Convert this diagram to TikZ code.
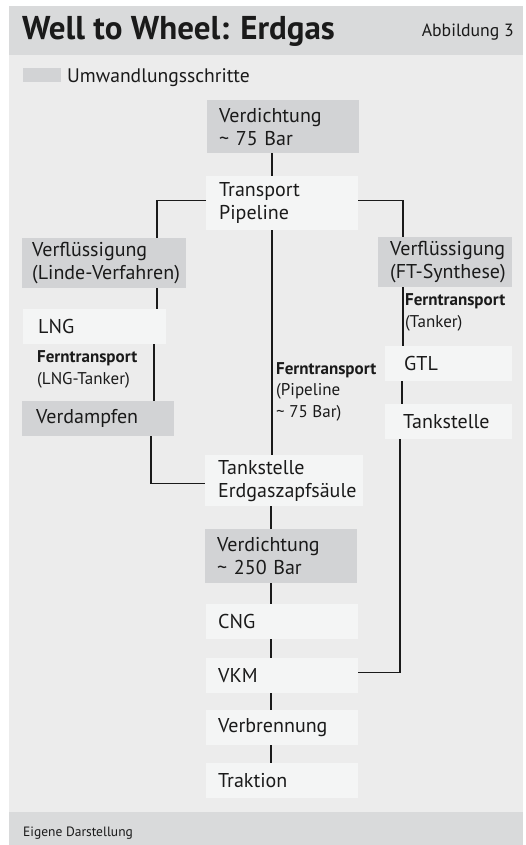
\documentclass[tikz,border=0pt]{standalone}
\usepackage{fontspec}
\setmainfont{PT Sans}
\definecolor{panelbg}{HTML}{ECECEC}
\definecolor{barbg}{HTML}{D9DADB}
\definecolor{grayfill}{HTML}{D2D3D5}
\definecolor{whitefill}{HTML}{F4F5F5}
\definecolor{ink}{HTML}{1A1A1A}
\begin{document}
\begin{tikzpicture}[x=1pt,y=-1pt,
  box/.style={rectangle, anchor=north west, align=left, inner ysep=0pt, text=ink,
    font=\fontsize{20}{23}\selectfont},
  gbox/.style={box, fill=grayfill},
  wbox/.style={box, fill=whitefill},
  lab/.style={anchor=base west, align=left, inner sep=0pt, text=ink,
    font=\fontsize{17}{21.5}\selectfont},
  conn/.style={draw=ink, line width=1.3pt}
]
\useasboundingbox (0,0) rectangle (525,845);
\fill[white] (0,0) rectangle (525,845);
% panel
\fill[panelbg] (8.5,6) rectangle (523,845);
\fill[barbg] (8.5,6) rectangle (523,55);
\fill[barbg] (8.5,812) rectangle (523,845);
% header
\node[anchor=base west, inner sep=0pt, text=ink, font=\bfseries\fontsize{33}{38}\selectfont] (title) at (22,40) {Well to Wheel: Erdgas};
\node[anchor=base east, inner sep=0pt, text=ink, font=\fontsize{17.7}{20}\selectfont] (abb) at (514,37) {Abbildung 3};
% legend
\node[anchor=north west, fill=grayfill, minimum width=38pt, minimum height=14pt, inner sep=0pt] (leg) at (23,68) {};
\node[anchor=base west, inner sep=0pt, text=ink, font=\fontsize{19.6}{23}\selectfont] (legt) at (67,83) {Umwandlungsschritte};
% footer
\node[anchor=base west, inner sep=0pt, text=ink, font=\fontsize{13.5}{16}\selectfont] (foot) at (23,836) {Eigene Darstellung};
% boxes
\node[gbox, minimum width=152pt, minimum height=53pt, inner xsep=12pt, text width=128pt] (v75) at (207,100) {Verdichtung\\\textasciitilde{} 75 Bar};
\node[wbox, minimum width=152pt, minimum height=54pt, inner xsep=13pt, text width=126pt] (tp) at (206,176) {Transport\\Pipeline};
\node[gbox, minimum width=164pt, minimum height=50pt, inner xsep=10pt, text width=144pt] (linde) at (22,238) {Verflüssigung\\\mbox{(Linde-Verfahren)}};
\node[wbox, minimum width=143pt, minimum height=35pt, inner xsep=15pt, text width=113pt] (lng) at (23,309) {LNG};
\node[gbox, minimum width=152pt, minimum height=35pt, inner xsep=14pt, text width=124pt] (verd) at (22,401) {Verdampfen};
\node[gbox, minimum width=134pt, minimum height=50pt, inner xsep=12pt, text width=110pt] (ft) at (378,237) {Verflüssigung\\\mbox{(FT-Synthese)}};
\node[wbox, minimum width=127pt, minimum height=35pt, inner xsep=19pt, text width=89pt] (gtl) at (385,346) {GTL};
\node[wbox, minimum width=127pt, minimum height=35pt, inner xsep=18pt, text width=91pt] (tsr) at (385,404) {Tankstelle};
\node[wbox, minimum width=158pt, minimum height=51pt, inner xsep=13pt, text width=132pt] (ts) at (205,455) {Tankstelle\\Erdgaszapfsäule};
\node[gbox, minimum width=152pt, minimum height=54pt, inner xsep=12pt, text width=128pt] (v250) at (205,529) {Verdichtung\\\textasciitilde{} 250 Bar};
\node[wbox, minimum width=152pt, minimum height=35pt, inner xsep=12pt, text width=128pt] (cng) at (206,604) {CNG};
\node[wbox, minimum width=152pt, minimum height=35pt, inner xsep=12pt, text width=128pt] (vkm) at (206,658) {VKM};
\node[wbox, minimum width=152pt, minimum height=35pt, inner xsep=12pt, text width=128pt] (verb) at (206,710) {Verbrennung};
\node[wbox, minimum width=152pt, minimum height=35pt, inner xsep=12pt, text width=128pt] (trak) at (206,763) {Traktion};
% labels (base anchor = baseline of the last line)
\node[lab] (labL) at (37,384) {\textbf{Ferntransport}\\(LNG-Tanker)};
\node[lab] (labC) at (276,417) {\textbf{Ferntransport}\\(Pipeline\\\textasciitilde{} 75 Bar)};
\node[lab] (labR) at (405,327) {\textbf{Ferntransport}\\(Tanker)};
% column coordinates
\coordinate (cC) at (272,0);
\coordinate (cC2) at (271,0);
\coordinate (cL1) at (157,0);
\coordinate (cL2) at (154,0);
\coordinate (cL3) at (151,0);
\coordinate (cR1) at (403,0);
\coordinate (cR2) at (402,0);
\coordinate (cR3) at (400,0);
% connectors
\draw[conn] (v75.south -| cC) -- (tp.north -| cC);
\draw[conn] ([yshift=3pt]tp.west) -| (linde.north -| cL1);
\draw[conn] ([yshift=3pt]tp.east) -| (ft.north -| cR1);
\draw[conn] (linde.south -| cL1) -- (lng.north -| cL1);
\draw[conn] (lng.south -| cL2) -- (verd.north -| cL2);
\draw[conn] (verd.south -| cL3) |- ([yshift=-3pt]ts.west);
\draw[conn] (tp.south -| cC) -- (ts.north -| cC);
\draw[conn] (ft.south -| cR1) -- (gtl.north -| cR1);
\draw[conn] (gtl.south -| cR2) -- (tsr.north -| cR2);
\draw[conn] (tsr.south -| cR3) |- ([yshift=3pt]vkm.east);
\draw[conn] (ts.south -| cC2) -- (v250.north -| cC2);
\draw[conn] (v250.south -| cC2) -- (cng.north -| cC2);
\draw[conn] (cng.south -| cC2) -- (vkm.north -| cC2);
\draw[conn] (vkm.south -| cC2) -- (verb.north -| cC2);
\draw[conn] (verb.south -| cC2) -- (trak.north -| cC2);
\end{tikzpicture}
\end{document}
